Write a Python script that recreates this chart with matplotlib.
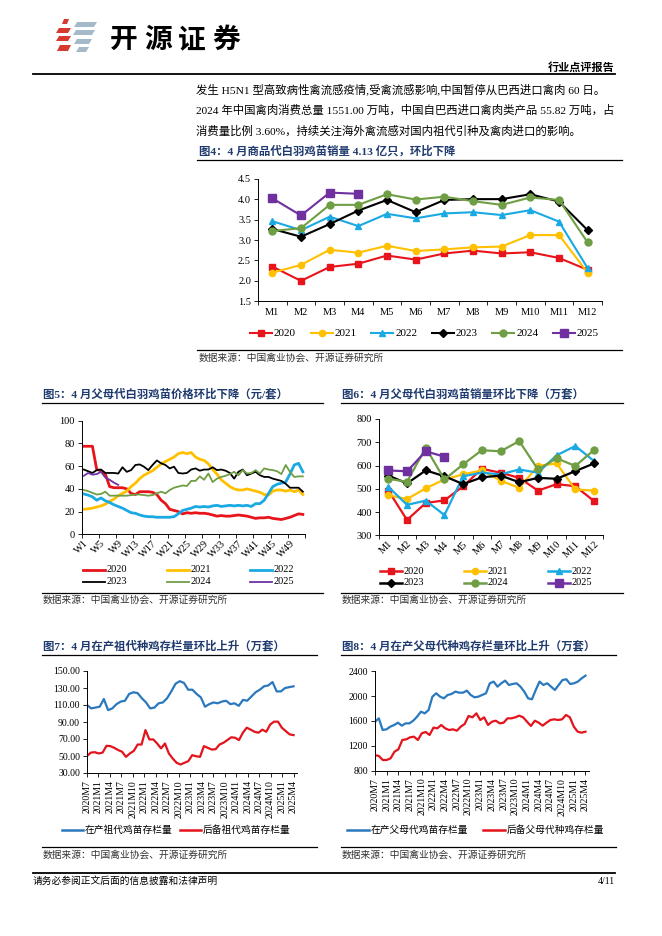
import numpy as np
import matplotlib.pyplot as plt
from matplotlib.lines import Line2D
from matplotlib.patches import Polygon

plt.rcParams['font.family'] = ['Liberation Serif', 'Noto Sans CJK SC']
plt.rcParams['axes.unicode_minus'] = False

# ---------------- data ----------------
years = ['2020', '2021', '2022', '2023', '2024', '2025']
months = ['M%d' % i for i in range(1, 13)]

# fig4: commercial chick sales (亿只)
cc_2020 = [2.35, 2.00, 2.34, 2.42, 2.62, 2.52, 2.67, 2.74, 2.67, 2.70, 2.56, 2.27]
cc_2021 = [2.20, 2.39, 2.76, 2.69, 2.86, 2.73, 2.77, 2.82, 2.84, 3.12, 3.12, 2.20]
cc_2022 = [3.46, 3.24, 3.57, 3.34, 3.64, 3.53, 3.65, 3.68, 3.61, 3.73, 3.45, 2.31]
cc_2023 = [3.27, 3.08, 3.39, 3.72, 3.98, 3.68, 3.98, 4.00, 4.00, 4.12, 3.94, 3.24]
cc_2024 = [3.22, 3.29, 3.86, 3.86, 4.12, 3.99, 4.06, 3.95, 3.86, 4.04, 3.98, 2.94]
cc_2025 = [4.02, 3.60, 4.16, 4.13]

# fig5: parent stock chick price, weekly (元/套)
weeks = ['W%d' % i for i in range(1, 53)]
pr_2020 = [77.5, 77.5, 77.5, 57, 56, 53, 42, 41, 41, 41, 40, 36, 35, 37.5, 37.5, 37.5, 37, 35, 30, 27,
           22, 21, 20, 18, 19, 18.5, 19, 18.5, 18.5, 18, 17, 16, 16.5, 16, 16, 16.5, 17, 16.5, 16, 15,
           14, 14.5, 14.5, 15, 14, 13.5, 13, 14, 15, 16.5, 18, 17.5]
pr_2021 = [22, 22.5, 23, 24, 25, 26.5, 29, 31, 34, 36, 38, 42, 45, 49, 52, 54, 56, 59, 62, 64,
           66, 68, 71, 72, 71, 72, 68, 66, 65, 62, 57, 53, 48, 45, 42, 40, 39, 39, 40, 39,
           38, 37, 35, 34.5, 38, 39, 39, 38, 39, 37.5, 39, 35]
pr_2022 = [35.5, 34.5, 33, 30, 32, 29.5, 28, 26, 24.5, 23, 21, 19, 18.5, 17, 16, 15.5, 15.5, 15, 15, 15,
           15, 15.5, 18, 21, 22, 23, 24.5, 24, 24.5, 24, 25, 25.5, 24.5, 25, 25.5, 25, 25.5, 25, 25.5, 24.5,
           27, 27, 30, 36, 42, 44, 45, 46, 53, 61, 62.5, 55]
pr_2023 = [57, 55.5, 54, 56.5, 57, 54, 54, 54, 53.5, 59, 55, 56.5, 61, 61.5, 59.5, 56.5, 61, 65, 62.5, 61,
           58, 59.5, 54, 53.5, 54, 57, 58, 56, 57, 57, 59, 56.5, 57, 56, 54, 49, 55, 57, 52, 53.5,
           55, 52, 50.5, 50.5, 49, 48, 47, 44.5, 41, 41, 41, 37.5]
pr_2024 = [39, 38, 36.5, 35, 35.5, 37.5, 34, 34, 34, 34, 34, 34.5, 35, 35, 34.5, 34, 34.5, 36, 37.5, 36,
           39, 41, 42, 43, 42.5, 47, 47, 51, 48, 53.5, 46, 49, 50.5, 51.5, 53, 55, 52, 56.5, 53.5, 54,
           56.5, 53.5, 58, 57, 56.5, 55.5, 53, 61, 55, 50.5, 51, 51]
pr_2025 = [51.5, 54, 52.5, 53, 55, 50, 48, 45.5, 43.5]

# fig6: parent stock chick sales (万套)
ps_2020 = [492, 366, 439, 450, 511, 586, 569, 547, 492, 520, 511, 447]
ps_2021 = [472, 456, 502, 540, 562, 579, 535, 504, 598, 609, 497, 492]
ps_2022 = [508, 431, 449, 387, 554, 569, 562, 583, 569, 644, 684, 619]
ps_2023 = [557, 523, 579, 554, 520, 549, 557, 528, 547, 543, 576, 609]
ps_2024 = [543, 530, 677, 540, 605, 666, 661, 705, 583, 631, 598, 667]
ps_2025 = [579, 575, 661, 638]

# fig7 / fig8 period labels
periods = ['2020M7', '2021M1', '2021M4', '2021M7', '2021M10', '2022M1', '2022M4', '2022M7', '2022M10',
           '2023M1', '2023M4', '2023M7', '2023M10', '2024M1', '2024M4', '2024M7', '2024M10',
           '2025M1', '2025M4']

# fig7: grandparent stock (万套)
gp_prod = [110, 106, 107, 108, 117, 104, 106, 111, 114, 115, 123, 125, 124, 118, 113, 106, 107, 112, 113, 118,
           126, 135, 138, 136, 128, 128, 123, 119, 108, 111, 113, 112, 114, 115, 111, 112, 109, 116, 115, 120,
           125, 128, 132, 133, 137, 126, 126, 130, 131, 132]
gp_resv = [50, 54, 54.5, 53, 54, 62, 61.6, 59.6, 57, 55, 49, 53, 56, 63.5, 63.5, 80.5, 69.5, 69.5, 64.7, 59,
           64.7, 53, 47, 42, 40, 42, 44, 51, 49.7, 49, 61.6, 59.6, 57.6, 58, 63.5, 65.5, 68.7, 72, 71.5, 68.7,
           77.4, 83.3, 81, 78.5, 77.4, 81, 78.5, 87, 90.4, 90.4, 83.3, 79.3, 75.4, 74.6]

# fig8: parent stock (万套)
pp_prod = [1589, 1643, 1455, 1466, 1509, 1536, 1573, 1525, 1562, 1562, 1605, 1670, 1750, 1723, 1777, 1992,
           2046, 1992, 1965, 2019, 2035, 2073, 2056, 2056, 2089, 2019, 1981, 1992, 2019, 2046, 2207, 2234,
           2153, 2207, 2250, 2180, 2196, 2207, 2153, 2073, 1965, 1949, 2099, 2234, 2180, 2207, 2153, 2099,
           2180, 2260, 2271, 2196, 2207, 2234, 2287, 2330]
pp_resv = [1052, 1036, 972, 972, 999, 1106, 1144, 1294, 1305, 1337, 1348, 1294, 1402, 1423, 1375, 1493,
           1482, 1536, 1482, 1455, 1466, 1444, 1509, 1552, 1681, 1659, 1723, 1616, 1659, 1536, 1589, 1605,
           1562, 1573, 1643, 1643, 1659, 1686, 1659, 1589, 1520, 1605, 1573, 1525, 1573, 1616, 1627, 1616,
           1627, 1697, 1659, 1509, 1428, 1412, 1428]

# ---------------- styles ----------------
RED, YEL, BLU, BLK, GRN, PUR = '#E8141B', '#FFC000', '#19A9E3', '#000000', '#6F9E45', '#7030A0'
NAVY = '#1F3A6E'
BLUE2, RED2 = '#2A78BD', '#E3141B'

W, H = 662, 936
fig = plt.figure(figsize=(W / 100, H / 100), dpi=100)


def ax_at(x0, y0, x1, y1):
    return fig.add_axes([x0 / W, 1 - y1 / H, (x1 - x0) / W, (y1 - y0) / H])


def txt(x, y, s, **kw):
    kw.setdefault('va', 'center')
    return fig.text(x / W, 1 - y / H, s, **kw)


def hline(x0, x1, y, lw=0.9, color='black'):
    fig.add_artist(Line2D([x0 / W, x1 / W], [1 - y / H, 1 - y / H], color=color, lw=lw))


def leg(x, y, color, label, lw=1.5, marker=None, ms=5, hl=22, fs=7.5):
    fig.add_artist(Line2D([x / W, (x + hl) / W], [1 - y / H] * 2, color=color, lw=lw))
    if marker:
        fig.add_artist(Line2D([(x + hl / 2) / W], [1 - y / H], color=color, marker=marker, ms=ms, lw=0))
    txt(x + hl + 2, y, label, fontsize=fs)


def style(ax, fs):
    for s in ['top', 'right']:
        ax.spines[s].set_visible(False)
    for s in ['left', 'bottom']:
        ax.spines[s].set_linewidth(0.7)
    ax.tick_params(labelsize=fs, length=3, width=0.6, pad=2)
    ax.tick_params(which='minor', length=3, width=0.6)
    ax.set_facecolor('none')


# ---------------- header ----------------
def para(x0, y0, w, h, sk, color):
    pts = [(x0, y0 + h), (x0 + w, y0 + h), (x0 + w + sk, y0), (x0 + sk, y0)]
    fig.add_artist(Polygon([(px / W, 1 - py / H) for px, py in pts], closed=True, color=color, lw=0))

para(62, 19, 5, 5, 2, '#D63A2F')
para(56, 28, 12, 5, 3, '#D63A2F')
para(56, 36, 12, 5, 3, '#D63A2F')
para(57, 45, 11, 6, 3, '#D63A2F')
para(74, 22, 20, 5, 3, '#A6B9C8')
para(73, 30, 19, 5, 3, '#A6B9C8')
para(74, 39, 15, 5, 3, '#A6B9C8')
para(76, 47, 10, 5, 3, '#A6B9C8')
for i, ch in enumerate('开源证券'):
    txt(110 + i * 34, 40, ch, fontsize=20, fontweight='bold', family='Noto Sans CJK SC')

txt(615, 67, '行业点评报告', ha='right', fontsize=8, fontweight='bold')
hline(33, 615, 74, lw=1.3)

body = ['发生 H5N1 型高致病性禽流感疫情,受禽流感影响,中国暂停从巴西进口禽肉 60 日。',
        '2024 年中国禽肉消费总量 1551.00 万吨，中国自巴西进口禽肉类产品 55.82 万吨，占',
        '消费量比例 3.60%，持续关注海外禽流感对国内祖代引种及禽肉进口的影响。']
for i, line in enumerate(body):
    txt(196, 89 + i * 20.8, line, fontsize=8.2)

src = '数据来源：中国禽业协会、开源证券研究所'

# ---------------- fig4 ----------------
txt(199, 151, '图4：4 月商品代白羽鸡苗销量 4.13 亿只，环比下降', fontsize=8.2, fontweight='bold', color=NAVY)
hline(197, 622, 159.5)
ax = ax_at(258, 178.7, 602, 301.3)
x = np.arange(12)
cfg4 = [(cc_2020, RED, 's', 5), (cc_2021, YEL, 'o', 4.5), (cc_2022, BLU, '^', 5),
        (cc_2023, BLK, 'D', 3.8), (cc_2024, GRN, 'o', 5), (cc_2025, PUR, 's', 5.5)]
for vals, c, m, ms in cfg4:
    ax.plot(x[:len(vals)], vals, color=c, marker=m, ms=ms, lw=1.5)
ax.set_xlim(-0.5, 11.5)
ax.set_ylim(1.5, 4.5)
ax.set_yticks(np.arange(1.5, 4.51, 0.5))
ax.set_yticklabels(['%.1f' % v for v in np.arange(1.5, 4.51, 0.5)])
ax.set_xticks(x)
ax.set_xticklabels(months)
ax.set_xticks(np.arange(-0.5, 12, 1), minor=True)
style(ax, 7.5)
ax.tick_params(axis='x', which='major', length=0, pad=5)
for i, ((vals, c, m, ms), yr) in enumerate(zip(cfg4, years)):
    leg(250 + i * 60.6, 333, c, yr, marker=m, ms=ms, fs=8)
hline(197, 622, 350)
txt(199, 358, src, fontsize=7, color='#333333')

# ---------------- fig5 ----------------
txt(43, 394, '图5：4 月父母代白羽鸡苗价格环比下降（元/套）', fontsize=8.2, fontweight='bold', color=NAVY)
hline(42, 323, 403)
ax = ax_at(81.7, 420.7, 305, 534.3)
wx = np.arange(1, 53)
cfg5 = [(pr_2020, RED, 2.0), (pr_2021, YEL, 2.0), (pr_2022, BLU, 2.0),
        (pr_2023, BLK, 1.3), (pr_2024, GRN, 1.3), (pr_2025, PUR, 1.3)]
for vals, c, lw in cfg5:
    ax.plot(wx[:len(vals)], vals, color=c, lw=lw)
ax.set_xlim(0.5, 52.5)
ax.set_ylim(0, 100)
ax.set_yticks(range(0, 101, 20))
ax.set_xticks(wx[::4])
ax.set_xticklabels(weeks[::4], rotation=45, ha='right', va='top', rotation_mode='anchor')
ax.set_xticks(np.arange(0.5, 53, 4), minor=True)
style(ax, 7.5)
ax.tick_params(axis='x', which='major', length=0, pad=3)
for i, ((vals, c, lw), yr) in enumerate(zip(cfg5, years)):
    leg(83 + (i % 3) * 83.5, 570 + (i // 3) * 11.5, c, yr, lw=lw)
hline(42, 323, 593)
txt(43, 600, src, fontsize=7, color='#333333')

# ---------------- fig6 ----------------
txt(342, 394, '图6：4 月父母代白羽鸡苗销量环比下降（万套）', fontsize=8.2, fontweight='bold', color=NAVY)
hline(341, 623, 403)
ax = ax_at(379, 419, 603.4, 535.3)
cfg6 = [(ps_2020, RED, 's', 5), (ps_2021, YEL, 'o', 4.5), (ps_2022, BLU, '^', 5),
        (ps_2023, BLK, 'D', 4), (ps_2024, GRN, 'o', 5), (ps_2025, PUR, 's', 5.5)]
for vals, c, m, ms in cfg6:
    ax.plot(x[:len(vals)], vals, color=c, marker=m, ms=ms, lw=1.6)
ax.set_xlim(-0.5, 11.5)
ax.set_ylim(300, 800)
ax.set_yticks(range(300, 801, 100))
ax.set_xticks(x)
ax.set_xticklabels(months, rotation=45, ha='right', va='top', rotation_mode='anchor')
ax.set_xticks(np.arange(-0.5, 12, 1), minor=True)
style(ax, 7.5)
ax.tick_params(axis='x', which='major', length=0, pad=3)
for i, ((vals, c, m, ms), yr) in enumerate(zip(cfg6, years)):
    leg(380 + (i % 3) * 84, 571 + (i // 3) * 11.5, c, yr, lw=1.8, marker=m, ms=ms)
hline(341, 623, 593)
txt(342, 600, src, fontsize=7, color='#333333')

# ---------------- fig7 ----------------
txt(43, 646, '图7：4 月在产祖代种鸡存栏量环比上升（万套）', fontsize=8.2, fontweight='bold', color=NAVY)
hline(42, 317, 655)
ax = ax_at(87, 671, 297, 773)
ax.plot(np.linspace(0, 18, len(gp_prod)), gp_prod, color=BLUE2, lw=1.6)
ax.plot(np.linspace(0, 18, len(gp_resv)), gp_resv, color=RED2, lw=1.6)
ax.set_xlim(0, 18.3)
ax.set_ylim(30, 150)
ax.set_yticks(range(30, 151, 20))
ax.set_yticklabels(['%.2f' % v for v in range(30, 151, 20)])
ax.set_xticks(range(len(periods)))
ax.set_xticklabels(periods, rotation=90)
style(ax, 7)
leg(62, 830, BLUE2, '在产祖代鸡苗存栏量', lw=1.8, hl=21, fs=7)
leg(180, 830, RED2, '后备祖代鸡苗存栏量', lw=1.8, hl=21, fs=7)
hline(42, 317, 847)
txt(43, 855, src, fontsize=7, color='#333333')

# ---------------- fig8 ----------------
txt(342, 646, '图8：4 月在产父母代种鸡存栏量环比上升（万套）', fontsize=8.2, fontweight='bold', color=NAVY)
hline(341, 616, 655)
ax = ax_at(375, 671.3, 589, 770.7)
ax.plot(np.linspace(0, 18, len(pp_prod)), pp_prod, color=BLUE2, lw=1.6)
ax.plot(np.linspace(0, 18, len(pp_resv)), pp_resv, color=RED2, lw=1.6)
ax.set_xlim(0, 18.3)
ax.set_ylim(800, 2400)
ax.set_yticks(range(800, 2401, 400))
ax.set_xticks(range(len(periods)))
ax.set_xticklabels(periods, rotation=90)
style(ax, 7)
leg(347, 830, BLUE2, '在产父母代鸡苗存栏量', lw=1.8, hl=22, fs=7)
leg(483, 830, RED2, '后备父母代种鸡存栏量', lw=1.8, hl=22, fs=7)
hline(341, 616, 847)
txt(342, 855, src, fontsize=7, color='#333333')

# ---------------- footer ----------------
hline(33, 615, 873, lw=1.3)
txt(33, 881, '请务必参阅正文后面的信息披露和法律声明', fontsize=7)
txt(615, 881, '4/11', ha='right', fontsize=7)

fig.savefig('out.png', dpi=100, facecolor='white')
